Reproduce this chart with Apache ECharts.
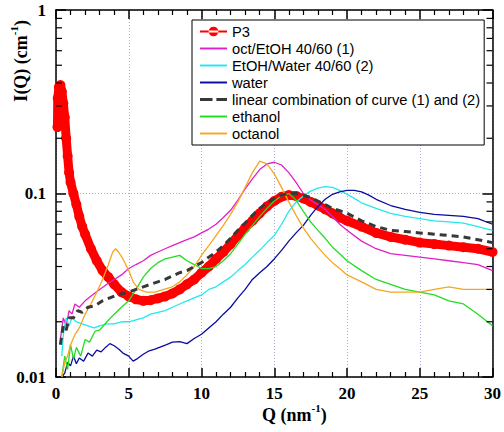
<!DOCTYPE html>
<html><head><meta charset="utf-8">
<script src="https://cdn.jsdelivr.net/npm/echarts@6/dist/echarts.min.js"></script>
<style>html,body{margin:0;padding:0;background:#fff}#c{width:504px;height:432px}</style>
</head><body><div id="c"></div>
<script>
// Data (Q in nm^-1, I(Q) in cm^-1)
const seriesNames = ['P3','oct/EtOH 40/60 (1)','EtOH/Water 40/60 (2)','water','linear combination of curve (1) and (2)','ethanol','octanol'];
const yMinorTicks = [0.02,0.03,0.04,0.05,0.06,0.07,0.08,0.09,0.2,0.3,0.4,0.5,0.6,0.7,0.8,0.9];

const p3 = [[0.1,0.23],[0.12,0.33],[0.2,0.38],[0.3,0.39],[0.4,0.36],[0.5,0.31],[0.6,0.26],[0.7,0.2],[0.8,0.16],[0.9,0.13],[1.0,0.115],[1.2,0.1],[1.4,0.087],[1.6,0.075],[1.8,0.066],[2.0,0.06],[2.4,0.05],[2.8,0.043],[3.2,0.038],[3.6,0.035],[4.0,0.032],[4.5,0.029],[5.0,0.0275],[5.5,0.0265],[6.0,0.026],[6.5,0.0262],[7.0,0.0268],[7.5,0.0275],[8.0,0.0285],[8.5,0.030],[9.0,0.032],[9.5,0.034],[10,0.037],[10.5,0.040],[11,0.044],[11.5,0.048],[12,0.053],[12.5,0.059],[13,0.065],[13.5,0.071],[14,0.078],[14.5,0.085],[15,0.091],[15.5,0.096],[16,0.098],[16.5,0.097],[17,0.094],[17.5,0.09],[18,0.086],[18.5,0.082],[19,0.078],[19.5,0.074],[20,0.071],[21,0.066],[22,0.061],[23,0.058],[24,0.056],[25,0.054],[26,0.053],[27,0.052],[28,0.051],[29,0.05],[30,0.048]];

const octEtoh = [[0.3,0.016],[0.5,0.021],[0.7,0.019],[0.9,0.023],[1.1,0.022],[1.3,0.025],[1.6,0.024],[2.0,0.026],[2.5,0.028],[3.0,0.030],[3.5,0.032],[4.0,0.034],[4.5,0.036],[5,0.039],[5.5,0.041],[6,0.043],[6.5,0.046],[7,0.048],[7.5,0.050],[8,0.052],[8.5,0.054],[9,0.056],[9.5,0.058],[10,0.061],[10.5,0.064],[11,0.068],[11.5,0.074],[12,0.081],[12.5,0.092],[13,0.106],[13.5,0.12],[14,0.135],[14.5,0.145],[15,0.148],[15.5,0.143],[16,0.13],[16.5,0.115],[17,0.1],[17.5,0.092],[18,0.087],[18.5,0.082],[19,0.075],[19.5,0.068],[20,0.063],[21,0.055],[22,0.05],[23,0.047],[24,0.046],[25,0.045],[26,0.044],[27,0.043],[28,0.042],[29,0.041],[30,0.038]];

const etohWater = [[0.4,0.013],[0.5,0.017],[0.7,0.021],[0.9,0.019],[1.1,0.021],[1.4,0.020],[1.8,0.0195],[2.2,0.019],[2.6,0.0185],[3,0.019],[3.5,0.0195],[4,0.0195],[4.5,0.020],[5,0.020],[5.5,0.0205],[6,0.021],[6.5,0.022],[7,0.0225],[7.5,0.023],[8,0.024],[8.5,0.025],[9,0.026],[9.5,0.027],[10,0.028],[10.5,0.030],[11,0.031],[11.5,0.033],[12,0.035],[12.5,0.038],[13,0.041],[13.5,0.045],[14,0.049],[14.5,0.054],[15,0.059],[15.5,0.068],[16,0.08],[16.5,0.09],[17,0.097],[17.5,0.103],[18,0.107],[18.5,0.109],[19,0.108],[19.5,0.104],[20,0.099],[20.5,0.094],[21,0.089],[22,0.083],[23,0.078],[24,0.075],[25,0.073],[26,0.071],[27,0.07],[28,0.069],[29,0.066],[30,0.063]];

const water = [[0.4,0.010],[0.6,0.0105],[0.8,0.012],[1.0,0.0115],[1.2,0.013],[1.4,0.0118],[1.6,0.0127],[1.9,0.0122],[2.2,0.0135],[2.5,0.013],[2.8,0.014],[3.1,0.0137],[3.4,0.0145],[3.7,0.0152],[4.0,0.0148],[4.3,0.0142],[4.6,0.0135],[5.0,0.013],[5.3,0.0122],[5.6,0.0126],[6.0,0.0133],[6.4,0.0139],[6.8,0.0142],[7.2,0.0146],[7.6,0.015],[8.0,0.0155],[8.5,0.0156],[9,0.0152],[9.5,0.0162],[10,0.0171],[10.5,0.0185],[11,0.020],[11.5,0.022],[12,0.024],[12.5,0.027],[13,0.030],[13.5,0.034],[14,0.037],[14.5,0.040],[15,0.044],[15.5,0.049],[16,0.055],[16.5,0.061],[17,0.067],[17.5,0.076],[18,0.085],[18.5,0.093],[19,0.099],[19.5,0.102],[20,0.104],[20.5,0.104],[21,0.102],[21.5,0.098],[22,0.093],[23,0.086],[24,0.082],[25,0.079],[26,0.077],[27,0.076],[28,0.075],[29,0.073],[30,0.068]];

const linComb = [[0.3,0.015],[0.5,0.019],[0.7,0.018],[0.9,0.021],[1.2,0.021],[1.5,0.023],[1.8,0.0225],[2.2,0.024],[2.7,0.0245],[3.2,0.026],[3.7,0.027],[4.2,0.028],[5,0.029],[5.5,0.030],[6,0.031],[6.5,0.032],[7,0.033],[7.5,0.034],[8,0.0355],[8.5,0.037],[9,0.038],[9.5,0.040],[10,0.042],[10.5,0.045],[11,0.048],[11.5,0.052],[12,0.057],[12.5,0.063],[13,0.069],[13.5,0.076],[14,0.083],[14.5,0.089],[15,0.094],[15.5,0.098],[16,0.1],[16.5,0.1],[17,0.098],[17.5,0.095],[18,0.091],[18.5,0.087],[19,0.083],[20,0.078],[21,0.071],[22,0.066],[23,0.063],[24,0.062],[25,0.061],[26,0.060],[27,0.059],[28,0.058],[29,0.056],[30,0.054]];

const ethanol = [[0.4,0.010],[0.6,0.013],[0.8,0.011],[1.0,0.015],[1.2,0.0125],[1.4,0.0145],[1.7,0.013],[2.0,0.016],[2.3,0.0155],[2.7,0.0178],[3.0,0.018],[3.5,0.020],[4.0,0.022],[4.5,0.024],[5.0,0.026],[5.5,0.030],[6.0,0.035],[6.5,0.039],[7.0,0.042],[7.5,0.044],[8.0,0.045],[8.5,0.046],[9.0,0.043],[9.5,0.041],[10,0.039],[10.5,0.039],[11,0.040],[11.5,0.043],[12,0.047],[12.5,0.053],[13,0.06],[13.5,0.067],[14,0.075],[14.5,0.083],[15,0.091],[15.5,0.097],[16,0.1],[16.5,0.092],[17,0.08],[17.5,0.07],[18,0.063],[18.5,0.057],[19,0.051],[19.5,0.047],[20,0.043],[21,0.038],[22,0.034],[23,0.032],[24,0.030],[25,0.029],[26,0.028],[27,0.026],[28,0.025],[29,0.022],[30,0.019]];

const octanol = [[0.4,0.010],[0.6,0.012],[0.8,0.013],[1.0,0.015],[1.3,0.017],[1.6,0.0185],[2.0,0.022],[2.4,0.025],[2.8,0.029],[3.2,0.034],[3.6,0.041],[3.9,0.048],[4.1,0.050],[4.3,0.048],[4.6,0.044],[5.0,0.038],[5.3,0.033],[5.7,0.030],[6.2,0.029],[6.8,0.029],[7.4,0.030],[8.0,0.031],[8.5,0.033],[9,0.036],[9.5,0.040],[10,0.046],[10.5,0.052],[11,0.059],[11.5,0.067],[12,0.077],[12.5,0.09],[13,0.108],[13.5,0.13],[14,0.15],[14.5,0.145],[15,0.128],[15.5,0.108],[16,0.09],[16.5,0.076],[17,0.065],[17.5,0.057],[18,0.051],[18.5,0.046],[19,0.042],[19.5,0.039],[20,0.036],[21,0.033],[22,0.030],[23,0.029],[24,0.029],[25,0.029],[26,0.030],[27,0.031],[28,0.030],[29,0.030],[30,0.030]];

const colors = {p3:'#ff0000', oct:'#e020c8', ew:'#22e8f0', water:'#0a0aa0', lin:'#383838', eth:'#22dd22', octa:'#f5a623'};

const serif = 'Liberation Serif';
const gridLine = {show:true, lineStyle:{color:'#a8b0d8', type:[1,2], width:1}};
const axisLine = {show:true, onZero:false, lineStyle:{color:'#000', width:1.5}};
const majTick = {show:true, inside:true, length:9, lineStyle:{color:'#000', width:1.5}};
const minTickX = {show:true, splitNumber:5, length:5, lineStyle:{color:'#000', width:1.2}};
const titleRich = {
  a:{fontFamily:serif, fontWeight:'bold', fontSize:18, lineHeight:22, fill:'#000', verticalAlign:'bottom'},
  s:{fontFamily:serif, fontWeight:'bold', fontSize:11, lineHeight:22, fill:'#000', verticalAlign:'top'}};

function thin(name, data, color){
  return {name, type:'line', data, symbol:'none', lineStyle:{color, width:1.3}, color, z:3};
}
const lineIcon = 'path://M0,0h28v2H0z';
const dashIcon = 'path://M0,0h13v3H0zM17,0h11v3H17z';
const dotIcon = 'path://M0,5h28v2H0zM9,6a5,5 0 1,0 10,0a5,5 0 1,0 -10,0z';

const chart = echarts.init(document.getElementById('c'), null, {renderer:'svg'});
chart.setOption({
  animation:false,
  grid:{left:56, right:8, top:10, bottom:55},
  xAxis:[{type:'value', min:0, max:30, interval:5, position:'bottom',
    axisLine, axisTick:majTick, minorTick:minTickX,
    axisLabel:{show:true, color:'#000', fontFamily:serif, fontWeight:'bold', fontSize:17, margin:8},
    splitLine:gridLine},
   {type:'value', min:0, max:30, interval:5, position:'top',
    axisLine, axisTick:majTick, minorTick:minTickX,
    axisLabel:{show:false}, splitLine:{show:false}}],
  yAxis:[{type:'log', logBase:10, min:0.01, max:1, position:'left',
    axisLine, axisTick:Object.assign({}, majTick, {length:10}),
    axisLabel:{show:true, color:'#000', fontFamily:serif, fontWeight:'bold', fontSize:17, margin:10},
    splitLine:gridLine},
   {type:'log', logBase:10, min:0.01, max:1, position:'right',
    axisLine, axisTick:Object.assign({}, majTick, {length:10}),
    axisLabel:{show:false}, splitLine:{show:false}}],
  legend:{orient:'vertical', left:192, top:20, padding:[4,4,4,8], itemGap:2,
    itemWidth:27, itemHeight:14, backgroundColor:'#fff', borderColor:'#000', borderWidth:1,
    textStyle:{fontFamily:'Liberation Sans', fontSize:14.7, color:'#000'},
    data:[
      {name:seriesNames[0], icon:dotIcon},
      {name:seriesNames[1], icon:lineIcon},
      {name:seriesNames[2], icon:lineIcon},
      {name:seriesNames[3], icon:lineIcon},
      {name:seriesNames[4], icon:dashIcon},
      {name:seriesNames[5], icon:lineIcon},
      {name:seriesNames[6], icon:lineIcon}]},
  series:[
    {name:seriesNames[0], type:'line', data:p3, symbol:'circle', symbolSize:10,
      lineStyle:{color:colors.p3, width:9}, color:colors.p3, z:2},
    thin(seriesNames[1], octEtoh, colors.oct),
    thin(seriesNames[2], etohWater, colors.ew),
    thin(seriesNames[3], water, colors.water),
    {name:seriesNames[4], type:'line', data:linComb, symbol:'none',
      lineStyle:{color:colors.lin, width:3, type:[7,5]}, color:colors.lin, z:4},
    thin(seriesNames[5], ethanol, colors.eth),
    thin(seriesNames[6], octanol, colors.octa),
    {name:'minorTicks', type:'custom', coordinateSystem:'cartesian2d', xAxisIndex:0, yAxisIndex:0,
      silent:true, clip:false, z:10, encode:{x:0, y:1},
      data: yMinorTicks.map(v => [1, v]),
      renderItem(params, api){
        const p = api.coord([api.value(0), api.value(1)]);
        const cs = params.coordSys;
        const st = {stroke:'#000', lineWidth:1.2};
        return {type:'group', children:[
          {type:'line', shape:{x1:cs.x, y1:p[1], x2:cs.x+6, y2:p[1]}, style:st},
          {type:'line', shape:{x1:cs.x+cs.width-6, y1:p[1], x2:cs.x+cs.width, y2:p[1]}, style:st}
        ]};
      }}
  ],
  graphic:[
    {type:'group', left:8, top:20, children:[
      {type:'text', rotation:Math.PI/2, style:{text:'{a|I(Q) (cm}{s|-1}{a|)}', rich:titleRich}}]},
    {type:'group', left:262, top:402, children:[
      {type:'text', style:{text:'{a|Q (nm}{s|-1}{a|)}', rich:titleRich}}]}
  ]
});
</script></body></html>
